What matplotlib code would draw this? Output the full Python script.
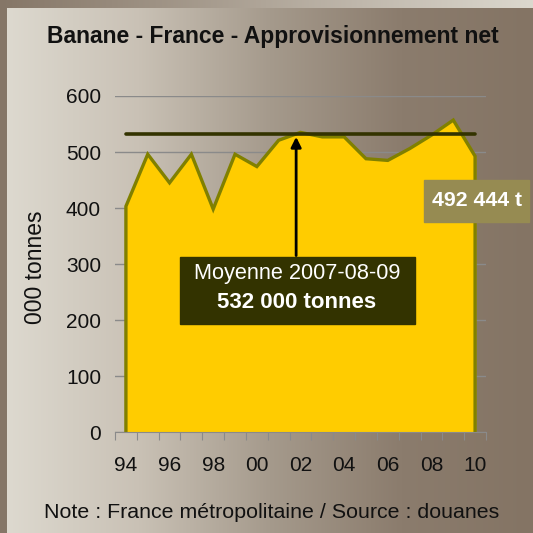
import matplotlib
matplotlib.use("Agg")
import matplotlib.pyplot as plt
import numpy as np
from matplotlib.colors import LinearSegmentedColormap

plt.rcParams['font.family'] = ['Liberation Sans', 'DejaVu Sans']

# data (000 tonnes)
years = list(range(1994, 2011))
year_labels = ['94', '96', '98', '00', '02', '04', '06', '08', '10']
supply = [403, 496, 445, 496, 398, 496, 474, 521, 535, 527, 527, 488, 485, 506, 530, 557, 492.444]
mean_0709 = 532
mean_text = 'Moyenne 2007-08-09'
mean_value_text = '532 000 tonnes'
last_text = '492 444 t'

W = 533
fig = plt.figure(figsize=(5.33, 5.33), dpi=100)

# outer frame gradient (dark left -> light right)
bg = fig.add_axes([0, 0, 1, 1])
bg.set_axis_off()
outer = LinearSegmentedColormap.from_list('outer', ['#857667', '#b0a699', '#dcd8ce'])
bg.imshow(np.linspace(0, 1, 256)[None, :], aspect='auto', cmap=outer, extent=[0, 1, 0, 1])
bg.set_xlim(0, 1)
bg.set_ylim(0, 1)

# inner panel gradient (light left -> brown right)
inner = fig.add_axes([7 / W, 0, 1 - 7 / W, 1 - 8 / W])
inner.set_axis_off()
panel = LinearSegmentedColormap.from_list('panel', ['#ddd9cf', '#c9c1b5', '#a59a8c', '#8b7c6d', '#847464'])
inner.imshow(np.linspace(0, 1, 256)[None, :], aspect='auto', cmap=panel, extent=[0, 1, 0, 1])
inner.set_xlim(0, 1)
inner.set_ylim(0, 1)

ax = fig.add_axes([115 / W, (W - 432) / W, 371 / W, 336 / W])
ax.patch.set_alpha(0)
ax.set_xlim(1993.5, 2010.5)
ax.set_ylim(0, 600)

ax.fill_between(years, supply, 0, color='#ffcc00', zorder=2)
ax.plot([years[0]] + years + [years[-1]], [0] + supply + [0], color='#808000', lw=2.4,
        solid_joinstyle='miter', zorder=3)

ax.set_yticks(range(0, 601, 100))
ax.yaxis.grid(True, color='#8a8a8a', lw=1, zorder=1)
ax.set_axisbelow(True)
ax.tick_params(axis='y', length=0, labelsize=15, pad=10, colors='#111111')

ax.set_xticks(np.arange(1993.5, 2011, 1))
ax.set_xticklabels([])
ax.tick_params(axis='x', which='major', length=6, color='#8a8a8a')
ax.set_xticks(years[::2], minor=True)
ax.set_xticklabels(year_labels, minor=True)
ax.tick_params(axis='x', which='minor', length=0, labelsize=15, pad=17, colors='#111111')

for s in ['top', 'right', 'left']:
    ax.spines[s].set_visible(False)
ax.spines['bottom'].set_color('#8a8a8a')
ax.spines['bottom'].set_zorder(4)

# mean line
ax.plot([years[0], years[-1]], [mean_0709, mean_0709], color='#333300', lw=2.6, zorder=5,
        solid_capstyle='round')

# annotation box and arrow
ax.annotate('', xy=(2001.8, mean_0709), xytext=(2001.8, 310),
            arrowprops=dict(arrowstyle='-|>', color='black', lw=2, mutation_scale=15),
            zorder=6)
fig.patches.append(plt.Rectangle((180 / W, (W - 324) / W), 235 / W, 67 / W,
                                 transform=fig.transFigure, color='#333300', zorder=7))
fig.text(297 / W, (W - 273) / W, mean_text, ha='center', va='center', color='white',
         fontsize=15.7, zorder=8)
fig.text(297 / W, (W - 303) / W, mean_value_text, ha='center', va='center', color='white',
         fontsize=16, fontweight='bold', zorder=8)

fig.patches.append(plt.Rectangle((424 / W, (W - 222) / W), 105 / W, 42 / W,
                                 transform=fig.transFigure, color='#968b52', zorder=7))
fig.text(477 / W, (W - 201) / W, last_text, ha='center', va='center', color='white',
         fontsize=15.3, fontweight='bold', zorder=8)

fig.text(273 / W, (W - 36) / W, 'Banane - France - Approvisionnement net', ha='center', va='center',
         fontsize=16.5, fontweight='bold', color='#111111')
fig.text(36 / W, (W - 267) / W, '000 tonnes', ha='center', va='center', rotation=90,
         fontsize=16.5, color='#111111')
fig.text(272 / W, (W - 513) / W, 'Note : France métropolitaine / Source : douanes', ha='center',
         va='center', fontsize=15.4, color='#111111')

fig.savefig('out.png', dpi=100)
